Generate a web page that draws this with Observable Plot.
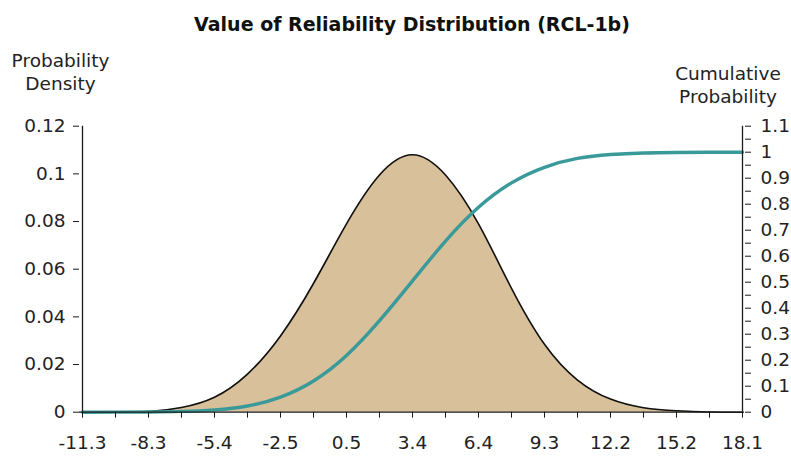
<!DOCTYPE html>
<html>
<head>
<meta charset="utf-8">
<script src="https://cdn.jsdelivr.net/npm/d3@7"></script>
<script src="https://cdn.jsdelivr.net/npm/@observablehq/plot@0.6"></script>
<style>
  html, body { margin: 0; padding: 0; background: #fff; }
</style>
</head>
<body>
<div id="chart"></div>
<script>
const title = "Value of Reliability Distribution (RCL-1b)";
const leftTitle = "Probability\nDensity";
const rightTitle = "Cumulative\nProbability";

// x categories (every other one is labelled)
const categories = ["-11.3","-9.8","-8.3","-6.9","-5.4","-4.0","-2.5","-1.0","0.5","2.0","3.4","4.9","6.4","7.8","9.3","10.8","12.2","13.7","15.2","16.6","18.1"];
const density = [0.0000,0.00005,0.0003,0.0020,0.0063,0.0160,0.0320,0.0540,0.0790,0.0995,0.1080,0.0995,0.0790,0.0520,0.0285,0.0135,0.0055,0.0019,0.0006,0.0001,0.0000];
const cumulative = [0.000,0.0002,0.0008,0.003,0.009,0.024,0.058,0.120,0.218,0.352,0.505,0.658,0.788,0.882,0.942,0.976,0.991,0.997,0.999,1.000,1.000];

const leftTicks = [0, 0.02, 0.04, 0.06, 0.08, 0.1, 0.12];
const rightTicks = [0, 0.1, 0.2, 0.3, 0.4, 0.5, 0.6, 0.7, 0.8, 0.9, 1, 1.1];
const rightMinor = [0.05, 0.15, 0.25, 0.35, 0.45, 0.55, 0.65, 0.75, 0.85, 0.95, 1.05];

const leftMax = 0.12, rightMax = 1.1;
const k = leftMax / rightMax;

const data = categories.map((c, i) => ({cat: c, density: density[i], cum: cumulative[i]}));

const W = 791, H = 460;
const mTop = 125.7, mBottom = 48.3, mLeft = 79, mRight = 47;
const axisColor = "#1a1a1a";
const font = "DejaVu Sans, Verdana, sans-serif";
const tickFont = 18.5;
const curve = "natural";

const chart = Plot.plot({
  width: W,
  height: H,
  marginTop: mTop,
  marginBottom: mBottom,
  marginLeft: mLeft,
  marginRight: mRight,
  style: {fontFamily: font, fontSize: tickFont + "px", color: "#222", background: "#fff"},
  x: {type: "point", domain: categories, padding: 0},
  y: {domain: [0, leftMax]},
  marks: [
    Plot.areaY(data, {x: "cat", y: "density", fill: "#D8C09A", curve}),
    Plot.lineY(data, {x: "cat", y: "density", stroke: "#111", strokeWidth: 1.6, curve}),
    Plot.lineY(data, {x: "cat", y: d => d.cum * k, stroke: "#3A9A9A", strokeWidth: 3.4, curve}),
    // axis lines
    Plot.ruleY([0], {stroke: axisColor, strokeWidth: 1.3}),
    Plot.ruleX([categories[0], categories[categories.length - 1]], {stroke: axisColor, strokeWidth: 1.3}),
    // left axis
    Plot.axisY(leftTicks, {anchor: "left", tickSize: 6, tickPadding: 8, label: null, fontSize: tickFont,
      stroke: axisColor, tickFormat: d => String(+d.toFixed(2))}),
    // right axis
    Plot.axisY(rightTicks.map(v => v * k), {anchor: "right", tickSize: 6, tickPadding: 10, label: null, fontSize: tickFont,
      stroke: axisColor, tickFormat: d => String(+(d / k).toFixed(1))}),
    Plot.axisY(rightMinor.map(v => v * k), {anchor: "right", tickSize: 6, label: null,
      stroke: axisColor, tickFormat: () => ""}),
    // x axis
    Plot.axisX(categories, {anchor: "bottom", tickSize: 6, tickPadding: 18, label: null, fontSize: tickFont,
      stroke: axisColor, tickFormat: d => categories.indexOf(d) % 2 === 0 ? d : ""}),
    // titles
    Plot.text([title], {frameAnchor: "top", lineAnchor: "middle", dy: -(mTop - 24), fontWeight: "bold", fontSize: 19, fill: "#111"}),
    Plot.text([leftTitle], {frameAnchor: "top-left", textAnchor: "middle", lineAnchor: "middle", dx: -19, dy: -(mTop - 70.6), fontSize: 18.5, lineHeight: 1.25, fill: "#222"}),
    Plot.text([rightTitle], {frameAnchor: "top-right", textAnchor: "middle", lineAnchor: "middle", dx: -16.5, dy: -(mTop - 84), fontSize: 18.5, lineHeight: 1.25, fill: "#222"})
  ]
});
document.getElementById("chart").appendChild(chart);
</script>
</body>
</html>
